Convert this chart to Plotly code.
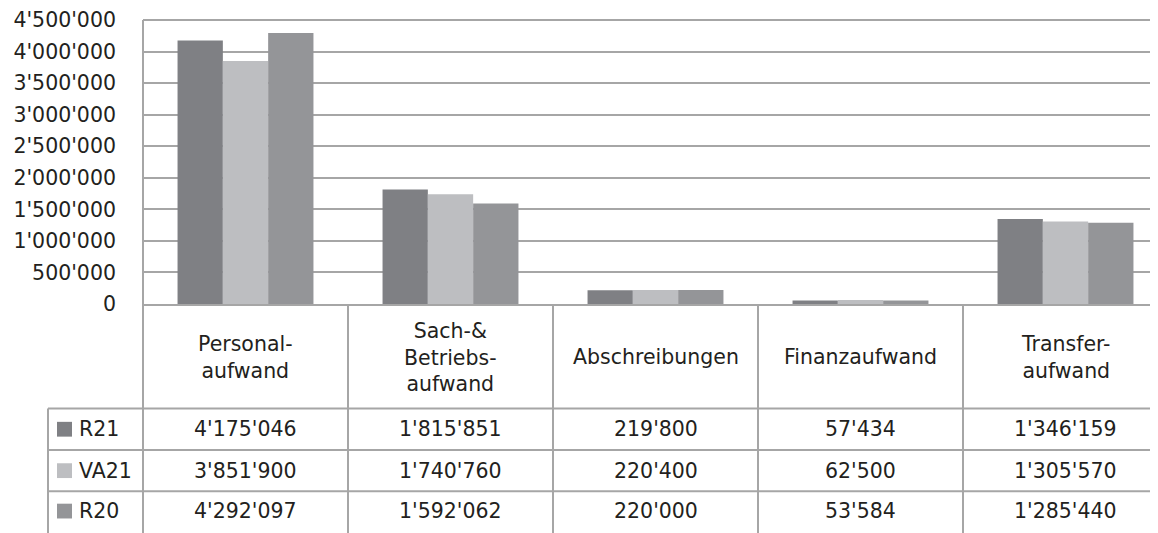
import plotly.graph_objects as go

categories = ["Personal-<br>aufwand", "Sach-&<br>Betriebs-<br>aufwand", "Abschreibungen", "Finanzaufwand", "Transfer-<br>aufwand"]
series_names = ["R21", "VA21", "R20"]
r21 = [4175046, 1815851, 219800, 57434, 1346159]
va21 = [3851900, 1740760, 220400, 62500, 1305570]
r20 = [4292097, 1592062, 220000, 53584, 1285440]
series_values = [r21, va21, r20]
colors = ["#7f8084", "#bdbec1", "#949598"]

W, H = 1158, 533
OFF = 8                         # default page body margin
L, T, B = 143, 16, 304          # plot area left, top, bottom (page px)
cat_w = 205                     # px per category
FONT = "DejaVu Sans"
FS = 20.5
TXT = "#231f20"
GRID = "#a6a6a6"
LW = 2

xr0 = -0.5
xr1 = xr0 + (W - L) / cat_w
ph = B - T

def py(p):  # page pixel y -> paper y
    return (B - p) / ph

def px(p):  # page pixel x -> paper x
    return (p - L) / (W - L)

def fmt(v):
    return f"{v:,}".replace(",", "'")

x_idx = list(range(len(categories)))
fig = go.Figure()
for name, vals, c in zip(series_names, series_values, colors):
    fig.add_trace(go.Bar(x=x_idx, y=vals, name=name, marker=dict(color=c, line=dict(width=0))))

shapes = []
line = dict(color=GRID, width=LW)
bottom = py(H + 5)
shapes.append(dict(type="line", xref="paper", yref="paper", x0=0, x1=1, y0=1, y1=1, line=line, layer="below"))
shapes.append(dict(type="line", xref="paper", yref="paper", x0=0, x1=0, y0=1, y1=bottom, line=line))
for b in [i + 0.5 for i in range(len(categories) - 1)]:
    xp = (b - xr0) / (xr1 - xr0)
    shapes.append(dict(type="line", xref="paper", yref="paper", x0=xp, x1=xp, y0=0, y1=bottom, line=line))
row_tops = [410, 452, 494]
for rt in row_tops:
    shapes.append(dict(type="line", xref="paper", yref="paper", x0=px(48), x1=1.0, y0=py(rt), y1=py(rt), line=line))
shapes.append(dict(type="line", xref="paper", yref="paper", x0=px(48), x1=px(48), y0=py(410), y1=bottom, line=line))

annotations = []
for i, c in enumerate(categories):
    annotations.append(dict(x=i, y=py(358), xref="x", yref="paper", text=c, showarrow=False,
                            xanchor="center", yanchor="middle", font=dict(family=FONT, size=FS, color=TXT)))
row_centers = [431, 473, 514]
for name, vals, c, rc in zip(series_names, series_values, colors, row_centers):
    shapes.append(dict(type="rect", xref="paper", yref="paper", x0=px(57), x1=px(72),
                       y0=py(rc - 7.5), y1=py(rc + 7.5), fillcolor=c, line=dict(width=0)))
    annotations.append(dict(x=px(77), y=py(rc), xref="paper", yref="paper", text=name, showarrow=False,
                            xanchor="left", yanchor="middle", font=dict(family=FONT, size=FS, color=TXT)))
    for i, v in enumerate(vals):
        annotations.append(dict(x=i, y=py(rc), xref="x", yref="paper", text=fmt(v), showarrow=False,
                                xanchor="center", yanchor="middle", font=dict(family=FONT, size=FS, color=TXT)))

fig.update_layout(
    width=W - OFF, height=H - OFF,
    margin=dict(l=L - OFF, r=0, t=T - OFF, b=H - B, pad=0),
    paper_bgcolor="white", plot_bgcolor="white",
    barmode="group", bargap=0.337, bargroupgap=0,
    showlegend=False,
    separators=".'",
    font=dict(family=FONT, size=FS, color=TXT),
    shapes=shapes, annotations=annotations,
    xaxis=dict(range=[xr0, xr1], showticklabels=False, showgrid=False, zeroline=False,
               showline=True, linecolor=GRID, linewidth=LW, fixedrange=True),
    yaxis=dict(range=[0, 4500000], dtick=500000, tickformat=",d", showgrid=True, gridcolor=GRID,
               gridwidth=LW, zeroline=False, showline=False, ticks="", ticklabelstandoff=26,
               ticklabeloverflow="allow",
               tickfont=dict(family=FONT, size=FS, color=TXT)),
)
fig.write_html("out.html")
